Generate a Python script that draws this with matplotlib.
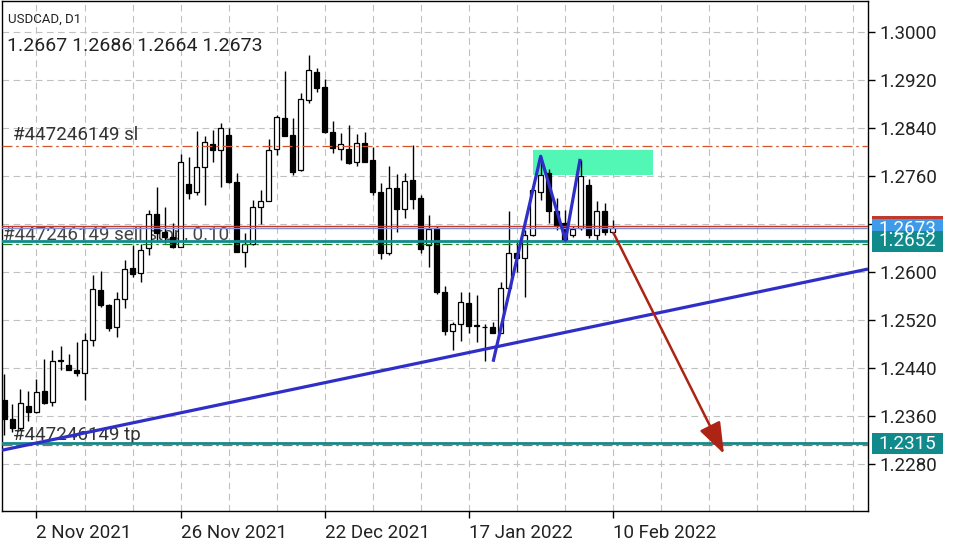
import matplotlib.pyplot as plt
import matplotlib.transforms as mtransforms
from matplotlib.patches import Rectangle
import pandas as pd

plt.rcParams['font.family'] = ['Roboto', 'DejaVu Sans']

dates = pd.bdate_range('2021-10-27', '2022-02-10')
opens = [1.2386, 1.2355, 1.2340, 1.2376, 1.2367, 1.2402, 1.2383, 1.2452, 1.2445, 1.2437,
         1.2432, 1.2487, 1.2570, 1.2545, 1.2508, 1.2555, 1.2606, 1.2598, 1.2640, 1.2697,
         1.2666, 1.2659, 1.2642, 1.2746, 1.2733, 1.2775, 1.2814, 1.2803, 1.2828, 1.2750,
         1.2634, 1.2646, 1.2708, 1.2719, 1.2805, 1.2856, 1.2828, 1.2770, 1.2886, 1.2933,
         1.2908, 1.2833, 1.2805, 1.2805, 1.2783, 1.2815, 1.2786, 1.2733, 1.2631, 1.2740,
         1.2705, 1.2753, 1.2723, 1.2645, 1.2673, 1.2567, 1.2502, 1.2514, 1.2548, 1.2511,
         1.2509, 1.2508, 1.2499, 1.2574, 1.2631, 1.2623, 1.2662, 1.2734, 1.2765, 1.2701,
         1.2681, 1.2662, 1.2673, 1.2745, 1.2662, 1.2702, 1.2667]
highs = [1.2430, 1.2380, 1.2405, 1.2402, 1.2422, 1.2455, 1.2470, 1.2477, 1.2464, 1.2483,
         1.2498, 1.2595, 1.2602, 1.2547, 1.2567, 1.2620, 1.2645, 1.2646, 1.2703, 1.2742,
         1.2709, 1.2681, 1.2796, 1.2791, 1.2835, 1.2826, 1.2836, 1.2849, 1.2840, 1.2765,
         1.2665, 1.2720, 1.2737, 1.2821, 1.2862, 1.2935, 1.2856, 1.2898, 1.2962, 1.2940,
         1.2922, 1.2852, 1.2831, 1.2845, 1.2830, 1.2833, 1.2809, 1.2748, 1.2777, 1.2763,
         1.2765, 1.2812, 1.2728, 1.2695, 1.2677, 1.2577, 1.2517, 1.2567, 1.2567, 1.2562,
         1.2513, 1.2516, 1.2584, 1.2701, 1.2650, 1.2670, 1.2745, 1.2793, 1.2772, 1.2724,
         1.2703, 1.2677, 1.2787, 1.2755, 1.2718, 1.2715, 1.2686]
lows = [1.2328, 1.2333, 1.2337, 1.2351, 1.2365, 1.2380, 1.2376, 1.2436, 1.2436, 1.2427,
        1.2386, 1.2476, 1.2541, 1.2501, 1.2492, 1.2540, 1.2592, 1.2584, 1.2628, 1.2653,
        1.2648, 1.2640, 1.2641, 1.2721, 1.2728, 1.2712, 1.2784, 1.2742, 1.2748, 1.2633,
        1.2608, 1.2645, 1.2680, 1.2718, 1.2795, 1.2826, 1.2762, 1.2769, 1.2881, 1.2900,
        1.2831, 1.2798, 1.2786, 1.2780, 1.2777, 1.2783, 1.2728, 1.2621, 1.2628, 1.2666,
        1.2690, 1.2705, 1.2631, 1.2609, 1.2563, 1.2495, 1.2470, 1.2485, 1.2498, 1.2484,
        1.2451, 1.2498, 1.2498, 1.2573, 1.2600, 1.2559, 1.2660, 1.2720, 1.2681, 1.2670,
        1.2650, 1.2658, 1.2670, 1.2656, 1.2653, 1.2662, 1.2664]
closes = [1.2355, 1.2340, 1.2382, 1.2366, 1.2400, 1.2382, 1.2452, 1.2453, 1.2437, 1.2431,
          1.2486, 1.2572, 1.2545, 1.2507, 1.2555, 1.2605, 1.2596, 1.2636, 1.2696, 1.2665,
          1.2659, 1.2641, 1.2784, 1.2731, 1.2775, 1.2816, 1.2804, 1.2840, 1.2750, 1.2634,
          1.2646, 1.2708, 1.2719, 1.2803, 1.2858, 1.2827, 1.2767, 1.2888, 1.2936, 1.2907,
          1.2834, 1.2806, 1.2813, 1.2781, 1.2815, 1.2784, 1.2734, 1.2631, 1.2740, 1.2705,
          1.2752, 1.2721, 1.2639, 1.2672, 1.2567, 1.2501, 1.2514, 1.2550, 1.2510, 1.2510,
          1.2509, 1.2499, 1.2574, 1.2631, 1.2623, 1.2662, 1.2737, 1.2762, 1.2701, 1.2678,
          1.2653, 1.2671, 1.2760, 1.2661, 1.2702, 1.2666, 1.2673]

tick_dates = ['2021-11-02', '2021-11-26', '2021-12-22', '2022-01-17', '2022-02-10']
tick_labels = ['2 Nov 2021', '26 Nov 2021', '22 Dec 2021', '17 Jan 2022', '10 Feb 2022']
price_ticks = [1.2280, 1.2360, 1.2440, 1.2520, 1.2600, 1.2680, 1.2760, 1.2840, 1.2920, 1.3000]

ask = 1.2676
bid = 1.2673
entry = 1.2652
sell_stop = 1.2646
sl = 1.2810
tp = 1.2311
tp_level = 1.2315

trend_x = [-0.31, 107.9]
trend_y = [1.2303, 1.2605]
zigzag_x = [61.1, 67.0, 70.1, 71.9]
zigzag_y = [1.2453, 1.2793, 1.2653, 1.2786]
zone_x = [66.0, 81.0]
zone_y = [1.2762, 1.2803]
arrow_start = (76.1, 1.2665)
arrow_end = (89.9, 1.2297)

fig = plt.figure(figsize=(9.6, 5.4), dpi=100)
ax = fig.add_axes([2 / 960, 29 / 540, 866 / 960, 510 / 540])

x = list(range(len(dates)))
w = 0.62
for i in x:
    o, h, l, c = opens[i], highs[i], lows[i], closes[i]
    fc = 'white' if c >= o else 'black'
    ax.vlines(i, l, h, color='black', lw=1, zorder=3)
    ax.bar(i, max(abs(c - o), 0.00002), w, bottom=min(o, c), color=fc,
           edgecolor='black', lw=0.9, zorder=4)

# order lines
ax.axhline(ask, color='#c0392b', lw=1, zorder=5)
ax.axhline(bid, color='#7f8fd6', lw=1, zorder=5)
ax.axhline(entry, color='#118a8c', lw=2, zorder=5)
ax.axhline(sell_stop, color='#1f7a1f', lw=0.9, ls=(0, (8, 3, 2, 3)), zorder=5)
ax.axhline(sl, color='#d2562a', lw=0.9, ls=(0, (8, 3, 2, 3)), zorder=5)
ax.axhline(tp_level, color='#118a8c', lw=2, zorder=5)
ax.axhline(tp, color='#d2562a', lw=0.9, ls=(0, (8, 3, 2, 3)), zorder=5)

ax.annotate('#447246149 sl', xy=(0, sl), xycoords=('axes fraction', 'data'),
            xytext=(7.7, 4.3), textcoords='offset points', fontsize=13.5,
            color='#333333', va='baseline', zorder=2)
ax.annotate('#447246149 sell stop, 0.10', xy=(0, sell_stop), xycoords=('axes fraction', 'data'),
            xytext=(0.5, 3), textcoords='offset points', fontsize=13.5,
            color='#444444', va='baseline', zorder=2)
ax.annotate('#447246149 tp', xy=(0, tp), xycoords=('axes fraction', 'data'),
            xytext=(8.1, 3.8), textcoords='offset points', fontsize=13.5,
            color='#333333', va='baseline', zorder=2)

# drawings
ax.fill_between(zone_x, zone_y[0], zone_y[1], color='#52f7b5', lw=0, zorder=2)
ax.plot(trend_x, trend_y, color='#2f2fc8', lw=2.3, zorder=6, solid_capstyle='butt')
ax.plot(zigzag_x, zigzag_y, color='#2f2fc8', lw=2.3, zorder=6)
ax.annotate('', xy=arrow_end, xytext=arrow_start,
            arrowprops=dict(arrowstyle='-|>,head_length=0.55,head_width=0.2',
                            color='#ad2414', lw=1.8, mutation_scale=35,
                            shrinkA=0, shrinkB=0), zorder=7)

ax.set_xlim(-0.31, 107.9)
ax.set_ylim(1.22017, 1.30517)

tick_pos = [list(dates).index(pd.Timestamp(d)) for d in tick_dates]
ax.set_xticks(tick_pos)
ax.set_xticklabels(tick_labels, fontsize=13.5, ha='left', color='#222222')
ax.set_xticks(range(tick_pos[0], 108, 6), minor=True)
ax.tick_params(axis='x', which='major', length=5, width=1, pad=4)
ax.tick_params(axis='x', which='minor', length=0)

# the 1.2680 label sits under the price boxes, so it is left blank
ax.yaxis.tick_right()
ax.set_yticks(price_ticks)
ax.set_yticklabels(['' if abs(p - bid) < 0.001 else '%.4f' % p for p in price_ticks],
                   fontsize=13.5, color='#222222')
ax.tick_params(axis='y', length=5, width=1, pad=3)

ax.grid(True, which='both', color='#c0c0c0', lw=0.8, ls=(0, (6, 4)), zorder=0)
ax.set_axisbelow(True)
for s in ax.spines.values():
    s.set_color('black')
    s.set_linewidth(1)

# price boxes on the right
trans = mtransforms.blended_transform_factory(ax.transAxes, ax.transData)
box_h = 0.0034

def price_box(p, fc, label=True, dy=0.0):
    ax.add_patch(Rectangle((1.0046, p - box_h / 2 + dy), 0.082, box_h, transform=trans,
                           fc=fc, ec='none', clip_on=False, zorder=8))
    if label:
        ax.text(1.0115, p + dy, '%.4f' % p, transform=trans, fontsize=13.5,
                color='white', va='center', ha='left', zorder=9)

price_box(ask, '#c0392b', label=False)
price_box(bid, '#3d9be9', dy=-0.0002)
price_box(entry, '#118a8c', dy=-0.0001)
price_box(tp_level, '#118a8c', dy=-0.0001)

fig.text(8 / 960, 1 - 19 / 540, 'USDCAD, D1', fontsize=9.5, color='#222222', va='center')
fig.text(7 / 960, 1 - 46 / 540, '%.4f %.4f %.4f %.4f' % (opens[-1], highs[-1], lows[-1], closes[-1]),
         fontsize=14, color='#222222', va='center')

fig.savefig('out.png', dpi=100)
